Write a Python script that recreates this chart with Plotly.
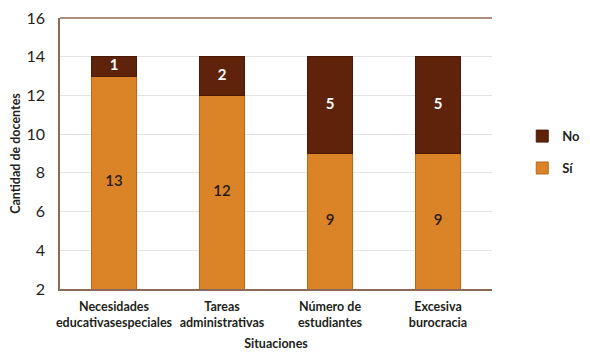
import plotly.graph_objects as go

categories = ["Necesidades<br>educativasespeciales", "Tareas<br>administrativas",
              "Número de<br>estudiantes", "Excesiva<br>burocracia"]
si_values = [13, 12, 9, 9]
no_values = [1, 2, 5, 5]
y_ticks = [2, 4, 6, 8, 10, 12, 14, 16]

Y_MIN, Y_MAX = 2, 16
SI_COLOR = "#DA8327"
NO_COLOR = "#5E230A"
AXIS_COLOR = "#8C6A58"
FONT = "Lato"

fig = go.Figure()
fig.add_trace(go.Bar(name="Sí", x=categories, y=si_values, marker_color=SI_COLOR,
                     marker_line=dict(color="#B8671C", width=1), width=0.41,
                     legendgroup="si", legendrank=2, hoverinfo="skip"))
fig.add_trace(go.Bar(name="No", x=categories, y=no_values, marker_color=NO_COLOR,
                     marker_line=dict(color="#4A1A06", width=1), width=0.41,
                     legendgroup="no", legendrank=1, hoverinfo="skip"))

# labels centred in the visible part of each segment
si_label_y = [(max(Y_MIN, 0) + v) / 2 for v in si_values]
no_label_y = [s + n / 2 for s, n in zip(si_values, no_values)]
fig.add_trace(go.Scatter(x=categories, y=si_label_y, mode="text",
                         text=[str(v) for v in si_values],
                         textfont=dict(color="#2B1A10", size=15, family=FONT, weight=600),
                         showlegend=False, hoverinfo="skip"))
fig.add_trace(go.Scatter(x=categories, y=no_label_y, mode="text",
                         text=[str(v) for v in no_values],
                         textfont=dict(color="white", size=15, family=FONT, weight=700),
                         showlegend=False, hoverinfo="skip"))

fig.update_layout(
    barmode="stack",
    width=590, height=358,
    margin=dict(l=52, r=106, t=10, b=77, autoexpand=False),
    paper_bgcolor="white", plot_bgcolor="white",
    font=dict(family=FONT, color="#231F20"),
    showlegend=True,
    legend=dict(x=1.07, y=0.505, xanchor="left", yanchor="middle",
                traceorder="grouped", tracegroupgap=12,
                font=dict(size=13, family=FONT, weight=700)),
    xaxis=dict(range=[-0.5, 3.5], showline=True, linecolor=AXIS_COLOR, linewidth=1.5,
               mirror=False, showgrid=False, ticks="outside", ticklen=5,
               tickcolor="rgba(0,0,0,0)", tickangle=0, automargin=False,
               tickfont=dict(size=12.5, family=FONT, weight=700),
               title=dict(text="Situaciones", font=dict(size=12.5, family=FONT, weight=700),
                          standoff=10)),
    yaxis=dict(range=[Y_MIN, Y_MAX], tickvals=y_ticks, showline=True, automargin=False,
               linecolor=AXIS_COLOR, linewidth=1.5, gridcolor="#E3E3E3", gridwidth=1,
               zeroline=False, ticks="outside", ticklen=10, tickcolor="rgba(0,0,0,0)",
               ticklabeloverflow="allow",
               tickfont=dict(size=16, family=FONT),
               title=dict(text="Cantidad de docentes",
                          font=dict(size=12.5, family=FONT, weight=700), standoff=6)),
)
# top border line
fig.add_shape(type="line", xref="paper", yref="paper", x0=0, x1=1, y0=1, y1=1,
              line=dict(color=AXIS_COLOR, width=1.5))

fig.write_html("out.html")
